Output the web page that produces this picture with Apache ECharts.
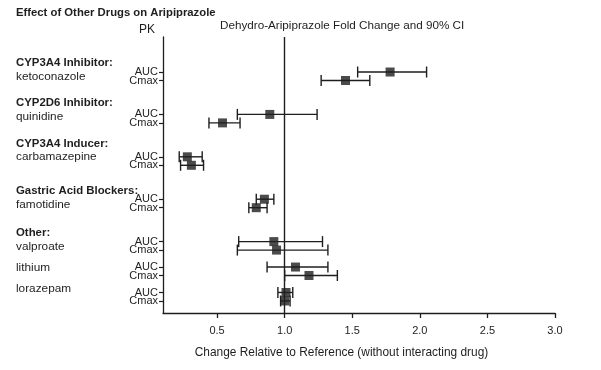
<!DOCTYPE html>
<html><head><meta charset="utf-8">
<script src="https://cdn.jsdelivr.net/npm/echarts@6/dist/echarts.min.js"></script>
<style>html,body{margin:0;padding:0;background:#fff}#c{width:601px;height:370px}</style>
</head><body><div id="c"></div>
<script>
// Row positions (slot index on the vertical scale)
const rowPos   = [0, 1, 5, 6, 10, 11, 15, 16, 20, 21, 23, 24, 26, 27];
const pkLabels = ['AUC','Cmax','AUC','Cmax','AUC','Cmax','AUC','Cmax','AUC','Cmax','AUC','Cmax','AUC','Cmax'];
const estimate = [1.78, 1.45, 0.89, 0.54, 0.28, 0.31, 0.85, 0.79, 0.92, 0.94, 1.08, 1.18, 1.01, 1.00];
const ciLow    = [1.54, 1.27, 0.65, 0.44, 0.22, 0.23, 0.79, 0.735, 0.66, 0.65, 0.87, 1.00, 0.95, 0.97];
const ciHigh   = [2.05, 1.63, 1.24, 0.67, 0.39, 0.40, 0.92, 0.87, 1.28, 1.32, 1.32, 1.39, 1.06, 1.04];

const groupPos    = [-0.24, 4.48, 9.24, 14.8, 19.77, 23.03, 25.6];
const groupTitles = ['CYP3A4 Inhibitor:','CYP2D6 Inhibitor:','CYP3A4 Inducer:','Gastric Acid Blockers:','Other:','',''];
const groupDrugs  = ['ketoconazole','quinidine','carbamazepine','famotidine','valproate','lithium','lorazepam'];

const xTicks = [0.5, 1.0, 1.5, 2.0, 2.5, 3.0];
const refValue = 1.0;

const FONT = '"Liberation Sans",Arial,sans-serif';
const INK = '#1e1e1e';
const Y_MIN = -4.13, Y_MAX = 28.42;

const aucPos  = rowPos.filter((p,i)=>pkLabels[i]==='AUC');
const cmaxPos = rowPos.filter((p,i)=>pkLabels[i]==='Cmax');
const labelFor = v => { const i = rowPos.findIndex(p=>Math.abs(p-v)<1e-6); return i>=0 ? pkLabels[i] : ''; };

function pkAxis(values, showLine){
  return {type:'value', inverse:true, min:Y_MIN, max:Y_MAX, position:'left', offset:0,
    axisLine:{show:showLine, onZero:false, lineStyle:{color:INK, width:1.3}},
    axisTick:{show:true, length:4, customValues:values, lineStyle:{color:INK, width:1.2}},
    axisLabel:{customValues:values, fontFamily:FONT, fontSize:11, color:INK, margin:5,
      hideOverlap:false, showMinLabel:true, showMaxLabel:true, formatter:labelFor},
    splitLine:{show:false}};
}

const chart = echarts.init(document.getElementById('c'), null, {renderer:'canvas'});
chart.setOption({
  animation:false,
  backgroundColor:'#fff',
  title:[
    {text:'Effect of Other Drugs on Aripiprazole', left:16, top:7, padding:0,
     textStyle:{fontFamily:FONT, fontSize:11.3, fontWeight:'bold', color:INK}},
    {text:'PK', left:139, top:24, padding:0, textStyle:{fontFamily:FONT, fontSize:12, fontWeight:'normal', color:INK}},
    {text:'Dehydro-Aripiprazole Fold Change and 90% CI', left:220, top:20, padding:0,
     textStyle:{fontFamily:FONT, fontSize:11.7, fontWeight:'normal', color:INK}}
  ],
  grid:{left:163, right:46, top:37, bottom:57, containLabel:false},
  xAxis:{
    type:'value', min:0.1, max:3.0,
    name:'Change Relative to Reference (without interacting drug)',
    nameLocation:'middle', nameGap:34,
    nameTextStyle:{fontFamily:FONT, fontSize:11.9, color:INK, padding:[0,35,0,0]},
    axisLine:{show:true, onZero:false, lineStyle:{color:INK, width:1.3}},
    axisTick:{show:true, length:5, customValues:xTicks, lineStyle:{color:INK, width:1.3}},
    axisLabel:{customValues:xTicks, fontFamily:FONT, fontSize:11, color:INK, margin:12,
               formatter:v=>v.toFixed(1)},
    splitLine:{show:false}
  },
  yAxis:[
    pkAxis(aucPos, true),
    {type:'value', inverse:true, min:Y_MIN, max:Y_MAX, position:'left', offset:147,
     axisLine:{show:false, onZero:false}, axisTick:{show:false}, splitLine:{show:false},
     axisLabel:{inside:true, margin:0, customValues:groupPos, hideOverlap:false, align:'left',
       showMinLabel:true, showMaxLabel:true,
       fontFamily:FONT, color:INK,
       rich:{b:{fontFamily:FONT, fontSize:11.4, fontWeight:'bold', color:INK, lineHeight:13.5},
             n:{fontFamily:FONT, fontSize:11.8, color:INK, lineHeight:13.5}},
       formatter:v=>{const i=groupPos.findIndex(p=>Math.abs(p-v)<1e-6); if(i<0) return '';
         return groupTitles[i] ? '{b|'+groupTitles[i]+'}\n{n|'+groupDrugs[i]+'}' : '{n|'+groupDrugs[i]+'}';}}},
    pkAxis(cmaxPos, false)
  ],
  series:[
    {type:'custom', yAxisIndex:0,
     encode:{x:[1,2], y:0},
     data: rowPos.map((p,i)=>[p, ciLow[i], ciHigh[i]]),
     renderItem:(params, api)=>{
       const y = api.value(0);
       const lo = api.coord([api.value(1), y]);
       const hi = api.coord([api.value(2), y]);
       const h = 5.5;
       const st = {stroke:INK, lineWidth:1.4};
       return {type:'group', children:[
         {type:'line', shape:{x1:lo[0], y1:lo[1], x2:hi[0], y2:hi[1]}, style:st},
         {type:'line', shape:{x1:lo[0], y1:lo[1]-h, x2:lo[0], y2:lo[1]+h}, style:st},
         {type:'line', shape:{x1:hi[0], y1:hi[1]-h, x2:hi[0], y2:hi[1]+h}, style:st}
       ]};
     }},
    {type:'scatter', yAxisIndex:0, symbol:'rect', symbolSize:9, z:5,
     itemStyle:{color:INK},
     data: rowPos.map((p,i)=>[estimate[i], p]),
     markLine:{silent:true, symbol:'none', label:{show:false},
       lineStyle:{color:INK, width:1.4, type:'solid'},
       data:[{xAxis:refValue}]}}
  ]
});
</script></body></html>
